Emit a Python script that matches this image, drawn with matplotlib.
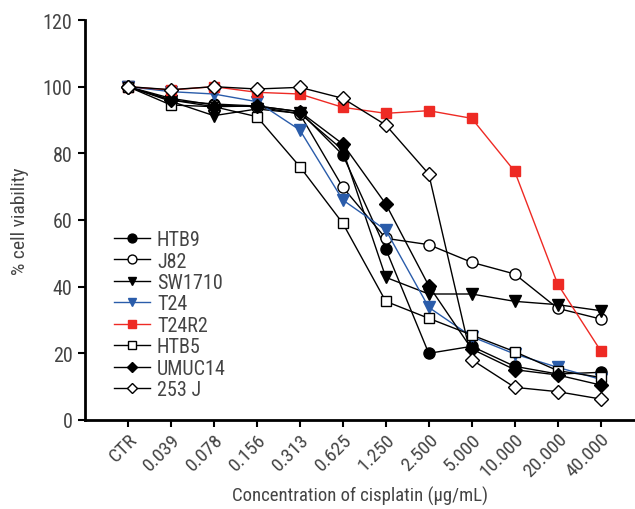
import matplotlib
matplotlib.use("Agg")
import matplotlib.pyplot as plt
from matplotlib.lines import Line2D

plt.rcParams['font.family'] = ['Roboto Condensed', 'Liberation Sans', 'DejaVu Sans']

categories = ["CTR", "0.039", "0.078", "0.156", "0.313", "0.625", "1.250",
              "2.500", "5.000", "10.000", "20.000", "40.000"]

htb9   = [100, 95.9, 94.8, 94.2, 92.5, 79.5, 51.3, 20.0, 22.1, 16.1, 13.8, 14.3]
j82    = [100, 96.5, 94.5, 94.0, 91.8, 69.8, 54.5, 52.6, 47.3, 43.8, 33.5, 30.3]
sw1710 = [100, 95.6, 91.3, 93.3, 92.0, 81.0, 42.8, 37.8, 37.8, 35.6, 34.6, 32.8]
t24    = [100, 98.5, 97.8, 95.5, 87.0, 66.0, 57.0, 33.8, 25.0, 19.8, 15.8, 12.2]
t24r2  = [100, 99.0, 100.0, 98.3, 97.8, 93.8, 92.0, 92.8, 90.5, 74.6, 40.8, 20.8]
htb5   = [100, 94.5, 94.0, 91.0, 76.0, 59.0, 35.6, 30.5, 25.5, 20.5, 14.8, 12.8]
umuc14 = [100, 96.0, 94.0, 94.2, 92.5, 82.8, 64.8, 40.3, 21.3, 15.1, 13.5, 10.5]
j253   = [100, 99.1, 100.0, 99.3, 99.8, 96.5, 88.5, 73.8, 18.1, 9.8, 8.5, 6.3]

series = [
    ("HTB9", htb9, 'o', 'black', 'black'),
    ("J82", j82, 'o', 'black', 'white'),
    ("SW1710", sw1710, 'v', 'black', 'black'),
    ("T24", t24, 'v', '#2a5caa', '#2a5caa'),
    ("T24R2", t24r2, 's', '#ee2a24', '#ee2a24'),
    ("HTB5", htb5, 's', 'black', 'white'),
    ("UMUC14", umuc14, 'D', 'black', 'black'),
    ("253 J", j253, 'D', 'black', 'white'),
]

fig = plt.figure(figsize=(6.35, 5.10), dpi=100)
ax = fig.add_axes([85/635, 89/510, 1 - 85/635, 400/510])

x = list(range(1, len(categories) + 1))
handles = []
for name, vals, mk, col, fc in series:
    ms = 7 if mk == 'D' else 8
    if mk == 's':
        ms = 7.5
    ax.plot(x, vals, marker=mk, color=col, markerfacecolor=fc,
            markeredgecolor='black' if fc == 'white' else col,
            markersize=ms, linewidth=1.0, markeredgewidth=1.0)
    handles.append(Line2D([0], [0], marker=mk, color=col, markerfacecolor=fc,
                          markeredgecolor='black' if fc == 'white' else col,
                          markersize=ms * 0.8, linewidth=1.0, markeredgewidth=1.0))

ax.set_xlim(0, 12.8)
ax.set_ylim(0, 120)
ax.set_yticks(range(0, 121, 20))
ax.set_xticks(x)
ax.set_xticklabels(categories, rotation=45, ha='right', va='top',
                   rotation_mode='anchor', fontsize=14)
ax.tick_params(axis='y', labelsize=14.5, direction='out', length=5, width=1.5, pad=4)
ax.tick_params(axis='x', direction='out', length=5, width=1.5, pad=2)
for s in ['top', 'right']:
    ax.spines[s].set_visible(False)
for s in ['left', 'bottom']:
    ax.spines[s].set_linewidth(2)
for lab in ax.get_yticklabels() + ax.get_xticklabels():
    lab.set_color('#444444')

ax.set_xlabel("Concentration of cisplatin (μg/mL)", fontsize=13.5, color='#444444', labelpad=4)
ax.set_ylabel("% cell viability", fontsize=14, color='#444444', labelpad=10)

ax.legend(handles, [s[0] for s in series], loc='upper left',
          bbox_to_anchor=(0.03, 0.505), frameon=False, fontsize=14.5,
          handlelength=1.8, labelspacing=0.12, handletextpad=0.35,
          borderaxespad=0.2, labelcolor='#444444')

fig.savefig("out.png", dpi=100)
